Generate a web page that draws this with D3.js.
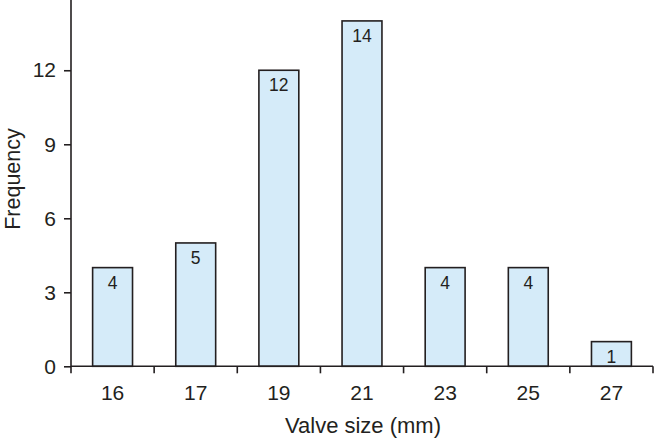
<!DOCTYPE html>
<html><head><meta charset="utf-8">
<script src="https://cdn.jsdelivr.net/npm/d3@7"></script>
<style>body{margin:0;background:#fff}svg{display:block}text{font-family:Arial,"Liberation Sans",sans-serif;fill:#231f20}</style>
</head><body>
<script>
const categories = ["16","17","19","21","23","25","27"];
const frequencies = [4,5,12,14,4,4,1];
const yTicks = [0,3,6,9,12];

const W=654,H=438;
const svg=d3.select("body").append("svg").attr("width",W).attr("height",H);
const x0=71,x1=653,y0=366.3,unit=24.67;
const x=d3.scaleBand().domain(categories).range([x0,x1]).paddingInner(0.52).paddingOuter(0.26);
const y=d3.scaleLinear().domain([0,15]).range([y0,y0-15*unit]);
const stroke="#231f20";

// bars
svg.selectAll("rect.bar").data(categories).enter().append("rect")
 .attr("x",d=>x(d)).attr("y",(d,i)=>y(frequencies[i]))
 .attr("width",x.bandwidth()).attr("height",(d,i)=>y(0)-y(frequencies[i]))
 .attr("fill","#d5ebf9").attr("stroke",stroke).attr("stroke-width",1.6);
svg.selectAll("text.val").data(categories).enter().append("text")
 .attr("x",d=>x(d)+x.bandwidth()/2).attr("y",(d,i)=>y(frequencies[i])+21)
 .attr("text-anchor","middle").style("font-size","17.5px").text((d,i)=>frequencies[i]);

// y axis
const ya=svg.append("g").attr("transform",`translate(${x0},0)`)
 .call(d3.axisLeft(y).tickValues(yTicks).tickSize(7).tickPadding(8).tickSizeOuter(0));
ya.select(".domain").attr("stroke",stroke).attr("stroke-width",1.6).attr("d",`M0,${y0}V${y(15)}`);
ya.selectAll(".tick line").attr("stroke",stroke).attr("stroke-width",1.6);
ya.selectAll(".tick text").attr("fill",stroke).style("font-size","21px").style("font-family","Arial,'Liberation Sans',sans-serif");

// x axis: line + boundary ticks
const xa=svg.append("g");
xa.append("line").attr("x1",x0).attr("x2",x1).attr("y1",y0).attr("y2",y0).attr("stroke",stroke).attr("stroke-width",1.6);
const bounds=d3.range(categories.length+1).map(i=>x0+i*(x1-x0)/categories.length);
xa.selectAll("line.b").data(bounds).enter().append("line")
 .attr("x1",d=>d).attr("x2",d=>d).attr("y1",y0).attr("y2",y0+7).attr("stroke",stroke).attr("stroke-width",1.6);
xa.selectAll("text.c").data(categories).enter().append("text")
 .attr("x",d=>x(d)+x.bandwidth()/2).attr("y",400).attr("text-anchor","middle").style("font-size","21px").text(d=>d);

svg.append("text").attr("x",363).attr("y",433).attr("text-anchor","middle").style("font-size","22px").text("Valve size (mm)");
svg.append("text").attr("transform","translate(19.5,179) rotate(-90)").attr("text-anchor","middle").style("font-size","21.5px").text("Frequency");
</script>
</body></html>
